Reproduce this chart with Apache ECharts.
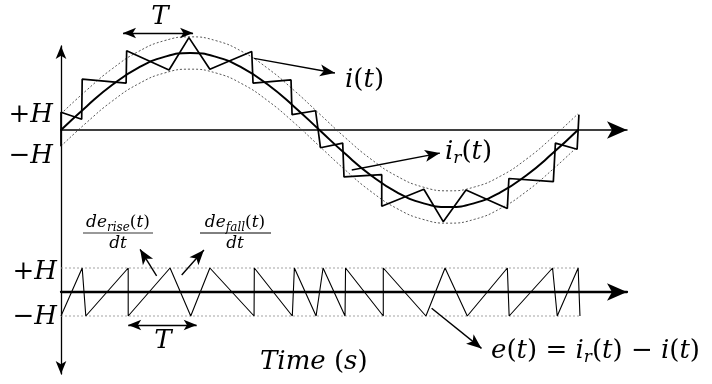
<!DOCTYPE html>
<html><head><meta charset="utf-8">
<script src="https://cdn.jsdelivr.net/npm/echarts@6/dist/echarts.min.js"></script>
<style>html,body{margin:0;padding:0;background:#fff}#c{width:712px;height:384px}</style>
</head><body><div id="c"></div>
<script>
// ---- data (time in ms, currents in per-unit of reference peak) ----
const irT        = [0,1,2,3,4,5,6,7,8,9,10,11,12,13,14,15,16,17,18,19,20];
const irVals     = [0,0.31,0.59,0.81,0.95,1.00,0.95,0.81,0.59,0.31,0,-0.31,-0.59,-0.81,-0.95,-1.00,-0.95,-0.81,-0.59,-0.31,0];
const upperBand  = [0.21,0.52,0.80,1.02,1.16,1.21,1.16,1.02,0.80,0.52,0.21,-0.10,-0.38,-0.60,-0.74,-0.79,-0.74,-0.60,-0.38,-0.10,0.21];
const lowerBand  = [-0.21,0.10,0.38,0.60,0.74,0.79,0.74,0.60,0.38,0.10,-0.21,-0.52,-0.80,-1.02,-1.16,-1.21,-1.16,-1.02,-0.80,-0.52,-0.21];

const iT    = [0,0,0.80,0.82,2.52,2.54,4.18,4.95,5.76,7.38,7.43,8.90,8.94,9.85,10.04,10.90,10.95,12.41,12.41,14.04,14.79,15.67,17.27,17.33,19.05,19.13,19.97,20.04];
const iVals = [-0.21,0.23,0.14,0.66,0.61,1.03,0.78,1.20,0.79,1.02,0.61,0.65,0.20,0.25,-0.23,-0.17,-0.61,-0.58,-0.99,-0.77,-1.19,-0.78,-1.02,-0.63,-0.67,-0.17,-0.25,0.20];

// error signal, in units of the hysteresis band H
const eT    = [0,0.82,0.96,2.60,2.60,4.22,5.02,5.76,7.47,7.48,8.95,9.03,9.87,10.14,10.99,11.01,12.47,12.47,14.12,14.86,15.72,17.27,17.34,19.02,19.20,20.01,20.08];
const eVals = [-1,1,-1,1,-1,1,-1,1,-1,1,-1,1,-1,1,-1,1,-1,1,-1,1,-1,1,-1,1,-1,1,-1];
const bandT = [0,20.08];
const bandHi = [1,1];
const bandLo = [-1,-1];

// annotation arrows [x1,y1,x2,y2] in data units
const arrowsTop    = [[7.47,0.93,10.60,0.74],[11.25,-0.52,14.66,-0.30]];
const periodTop    = [[2.40,1.26,5.11,1.26]];
const arrowsBottom = [[3.70,0.67,3.06,1.78],[4.67,0.71,5.53,1.75],[14.34,-0.68,16.27,-2.35]];
const periodBottom = [[2.60,-1.375,5.25,-1.375]];

const zip = (a,b) => a.map((v,i)=>[v,b[i]]);
const mk = arr => arr.map(a=>[{coord:[a[0],a[1]]},{coord:[a[2],a[3]]}]);

const XMAX = 21.9;
const noDeco = {axisTick:{show:false},axisLabel:{show:false},splitLine:{show:false}};
const F = '"DejaVu Serif", serif';

function rich(sz, sub){
  return {
    it:{fontFamily:F,fontStyle:'italic',fontSize:sz,lineHeight:sz+4,color:'#000'},
    rm:{fontFamily:F,fontStyle:'normal',fontSize:sz,lineHeight:sz+4,color:'#000'},
    sub:{fontFamily:F,fontStyle:'italic',fontSize:sub,lineHeight:sub-2,verticalAlign:'bottom',color:'#000'}
  };
}
function txt(x,y,text,sz,sub,align,sx){
  return {type:'text',x:x,y:y,scaleX:sx||1,silent:true,z:10,
    style:{text:text,rich:rich(sz,sub),textAlign:align||'left',textVerticalAlign:'middle'}};
}

const chart = echarts.init(document.getElementById('c'), null, {renderer:'canvas'});
const dotted = c => ({color:c,width:0.9,type:[2,2]});
const arrowLine = {color:'#000',width:1.4,type:'solid'};

chart.setOption({
  animation:false,
  backgroundColor:'#fff',
  grid:[
    {left:61,top:46,width:566,height:328},
    {left:61,top:29.9,width:566,height:200.2},
    {left:61,top:208,width:566,height:168}
  ],
  xAxis:[
    Object.assign({gridIndex:0,type:'value',min:0,max:XMAX,axisLine:{show:false}},noDeco),
    Object.assign({gridIndex:1,type:'value',min:0,max:XMAX,
      axisLine:{show:true,onZero:true,symbol:['none','arrow'],symbolSize:[13,20],lineStyle:{color:'#000',width:1.5}}},noDeco),
    Object.assign({gridIndex:2,type:'value',min:0,max:XMAX,
      axisLine:{show:true,onZero:true,symbol:['none','arrow'],symbolSize:[13,20],lineStyle:{color:'#000',width:2.3}}},noDeco)
  ],
  yAxis:[
    Object.assign({gridIndex:0,type:'value',min:0,max:1,
      axisLine:{show:true,symbol:['arrow','arrow'],symbolSize:[8,13],lineStyle:{color:'#000',width:1.3}}},noDeco),
    {gridIndex:1,type:'value',min:-1.3,max:1.3,show:false},
    {gridIndex:2,type:'value',min:-3.5,max:3.5,show:false}
  ],
  series:[
    {type:'line',xAxisIndex:1,yAxisIndex:1,data:zip(irT,upperBand),smooth:true,showSymbol:false,clip:false,lineStyle:dotted('#444'),silent:true},
    {type:'line',xAxisIndex:1,yAxisIndex:1,data:zip(irT,lowerBand),smooth:true,showSymbol:false,clip:false,lineStyle:dotted('#444'),silent:true},
    {type:'line',xAxisIndex:1,yAxisIndex:1,data:zip(irT,irVals),smooth:true,showSymbol:false,clip:false,lineStyle:{color:'#000',width:2},silent:true},
    {type:'line',xAxisIndex:1,yAxisIndex:1,data:zip(iT,iVals),showSymbol:false,clip:false,lineStyle:{color:'#000',width:1.7},silent:true,
      markLine:{silent:true,symbol:['none','arrow'],symbolSize:[9,15],label:{show:false},lineStyle:arrowLine,data:mk(arrowsTop)}},
    {type:'line',xAxisIndex:1,yAxisIndex:1,data:[],silent:true,
      markLine:{silent:true,symbol:['arrow','arrow'],symbolSize:[8,13],label:{show:false},lineStyle:arrowLine,data:mk(periodTop)}},
    {type:'line',xAxisIndex:2,yAxisIndex:2,data:zip(bandT,bandHi),showSymbol:false,clip:false,lineStyle:dotted('#999'),silent:true},
    {type:'line',xAxisIndex:2,yAxisIndex:2,data:zip(bandT,bandLo),showSymbol:false,clip:false,lineStyle:dotted('#999'),silent:true},
    {type:'line',xAxisIndex:2,yAxisIndex:2,data:zip(eT,eVals),showSymbol:false,clip:false,lineStyle:{color:'#000',width:1.1},silent:true,
      markLine:{silent:true,symbol:['none','arrow'],symbolSize:[9,15],label:{show:false},lineStyle:arrowLine,data:mk(arrowsBottom)}},
    {type:'line',xAxisIndex:2,yAxisIndex:2,data:[],silent:true,
      markLine:{silent:true,symbol:['arrow','arrow'],symbolSize:[8,13],label:{show:false},lineStyle:arrowLine,data:mk(periodBottom)}}
  ],
  graphic:[
    txt(160,17,'{it|T}',26,17,'center'),
    txt(345,80,'{it|i}{rm|(}{it|t}{rm|)}',26,17,'left'),
    txt(445,152,'{it|i}{sub|r}{rm|(}{it|t}{rm|)}',26,17,'left'),
    txt(53,115,'{rm|+}{it|H}',26,17,'right'),
    txt(53,156,'{rm|−}{it|H}',26,17,'right'),
    txt(57,272,'{rm|+}{it|H}',26,17,'right'),
    txt(57,317,'{rm|−}{it|H}',26,17,'right'),
    txt(163,341,'{it|T}',26,17,'center'),
    txt(260,362,'{it|Time}{rm| (}{it|s}{rm|)}',26,17,'left'),
    txt(491,351,'{it|e}{rm|(}{it|t}{rm|) = }{it|i}{sub|r}{rm|(}{it|t}{rm|) − }{it|i}{rm|(}{it|t}{rm|)}',26,17,'left'),
    txt(118,223,'{it|de}{sub|rise}{rm|(}{it|t}{rm|)}',17,12,'center'),
    {type:'line',silent:true,shape:{x1:83,y1:233,x2:153,y2:233},style:{stroke:'#777',lineWidth:1.6}},
    txt(118,244,'{it|dt}',17,12,'center'),
    txt(235,223,'{it|de}{sub|fall}{rm|(}{it|t}{rm|)}',17,12,'center'),
    {type:'line',silent:true,shape:{x1:200,y1:233,x2:271,y2:233},style:{stroke:'#000',lineWidth:1}},
    txt(235,244,'{it|dt}',17,12,'center')
  ]
});
</script></body></html>
